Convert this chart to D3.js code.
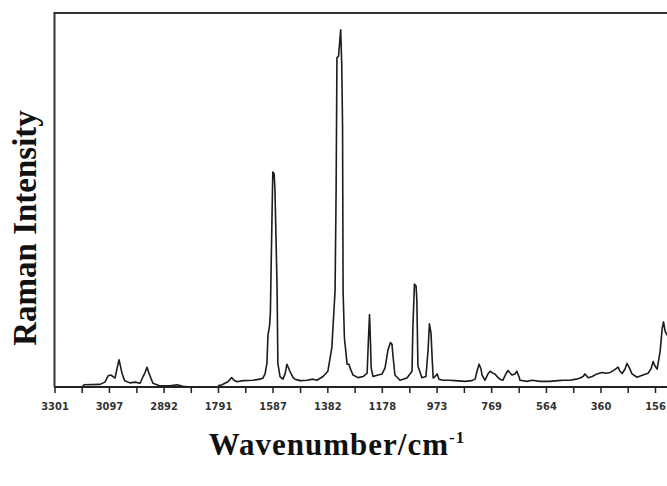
<!DOCTYPE html>
<html>
<head>
<meta charset="utf-8">
<script src="https://cdn.jsdelivr.net/npm/d3@7"></script>
<style>
  body { margin: 0; background: #fff; }
  svg { display: block; }
</style>
</head>
<body>
<svg id="chart" width="667" height="486"></svg>
<script>
// high wavenumber part (C-H region), before the axis break
var leftWavenumber = [3301, 3198, 3190, 3130, 3112, 3100, 3089, 3074, 3067, 3059, 3048, 3038, 3018, 2999, 2980, 2969, 2962, 2954, 2947, 2932, 2905, 2868, 2842, 2819, 2793];
var leftIntensity  = [0, 0, 0.6, 0.7, 1.3, 3.0, 3.2, 2.4, 4.8, 7.3, 3.7, 1.7, 1.1, 1.3, 1.0, 2.8, 3.8, 5.3, 3.7, 1.0, 0.3, 0.3, 0.6, 0.2, 0];

// fingerprint region, after the break
var rightWavenumber = [1791, 1776, 1754, 1740, 1731, 1720, 1697, 1660, 1634, 1623, 1615, 1608, 1604, 1598, 1595, 1591, 1586, 1581, 1578, 1574, 1570, 1567, 1559, 1548, 1540, 1533, 1522, 1510, 1503, 1484, 1458, 1436, 1421, 1398, 1380, 1365, 1361, 1353, 1349, 1346, 1340, 1332, 1328, 1325, 1323, 1318, 1308, 1301, 1297, 1286, 1267, 1248, 1233, 1228, 1224, 1220, 1218, 1211, 1192, 1177, 1166, 1155, 1146, 1140, 1136, 1129, 1110, 1084, 1065, 1062, 1056, 1050, 1047, 1043, 1028, 1013, 1005, 1000, 994, 990, 986, 979, 971, 964, 949, 930, 904, 867, 841, 829, 822, 814, 807, 803, 792, 781, 773, 762, 755, 747, 736, 725, 714, 706, 699, 691, 680, 673, 665, 661, 635, 616, 586, 549, 519, 500, 474, 451, 436, 425, 418, 406, 391, 373, 354, 339, 324, 309, 294, 287, 279, 268, 261, 253, 242, 223, 201, 182, 171, 163, 156, 148, 137, 129, 124, 118, 111, 100];
var rightIntensity  = [0.3, 0.6, 1.4, 2.5, 1.8, 1.4, 1.7, 1.8, 2.1, 2.4, 3.5, 6.3, 13.9, 16.4, 19.9, 37, 57.5, 57, 53, 40, 26.5, 6.3, 2.8, 2.1, 3.5, 6.1, 4.2, 2.5, 2.1, 1.7, 1.8, 2.1, 1.8, 2.8, 4.2, 10.6, 15.7, 25.7, 53, 88, 88.5, 95.5, 86, 70, 25.7, 13.1, 6.1, 6.1, 5.1, 3.2, 2.5, 2.8, 3.7, 13.1, 19.4, 10.6, 5.1, 2.8, 3.2, 3.5, 5.1, 9.9, 11.9, 11.4, 8.1, 3.2, 1.8, 2.4, 4.2, 15.7, 27.5, 27, 23.2, 5.6, 2.5, 2.8, 9.9, 16.9, 14.4, 8.1, 2.4, 2.8, 3.5, 2.1, 1.8, 1.8, 1.7, 1.5, 1.7, 2.1, 4.2, 6.1, 4.8, 3.2, 1.8, 3.5, 4.2, 3.7, 3.5, 2.8, 2.1, 1.8, 3.5, 4.4, 3.8, 3.2, 3.5, 4.2, 2.8, 1.8, 1.5, 1.8, 1.5, 1.5, 1.7, 1.8, 1.8, 2.1, 2.4, 2.8, 3.5, 2.5, 2.8, 3.5, 3.9, 3.7, 3.9, 4.5, 5.3, 4.2, 3.6, 4.8, 6.3, 5.3, 3.5, 2.6, 3.2, 3.7, 4.8, 6.8, 5.6, 4.8, 9.4, 15.7, 17.4, 14.9, 13.9, 15.7];

var tickLabels = [3301, 3097, 2892, 1791, 1587, 1382, 1178, 973, 769, 564, 360, 156];
var minorTicks = [3199, 2994, 2790, 1689, 1484, 1280, 1075, 871, 666, 462, 258, 53];

var svg = d3.select("#chart");

// (don't call it "top", that one belongs to window)
var plotLeft = 54.5, plotTop = 13, plotBottom = 387;

// broken axis: 2688..1791 collapse onto the same spot
var x = d3.scaleLinear()
    .domain([3301, 2688, 1791, 156])
    .range([plotLeft, 218, 218, 655]);

var y = d3.scaleLinear()
    .domain([0, 100])
    .range([plotBottom, plotTop]);

var line = d3.line()
    .x(d => x(d[0]))
    .y(d => y(d[1]));

var segments = [
    d3.zip(leftWavenumber, leftIntensity),
    d3.zip(rightWavenumber, rightIntensity)
];

svg.selectAll(".spectrum")
    .data(segments)
    .enter()
    .append("path")
    .attr("class", "spectrum")
    .attr("d", line)
    .style("fill", "none")
    .style("stroke", "#1c1c1c")
    .style("stroke-width", 1.6)
    .style("stroke-linejoin", "round");

// frame: left and top only, right side is cut off
svg.append("line")
    .attr("x1", plotLeft).attr("y1", plotTop)
    .attr("x2", plotLeft).attr("y2", plotBottom)
    .style("stroke", "#333").style("stroke-width", 2);

svg.append("line")
    .attr("x1", plotLeft - 1).attr("y1", plotTop)
    .attr("x2", 667).attr("y2", plotTop)
    .style("stroke", "#333").style("stroke-width", 2);

var xAxis = d3.axisBottom(x)
    .tickValues(tickLabels.concat(minorTicks))
    .tickSize(6)
    .tickPadding(9)
    .tickFormat(d => tickLabels.indexOf(d) >= 0 ? d : "");

var gx = svg.append("g")
    .attr("transform", "translate(0," + plotBottom + ")")
    .call(xAxis);

gx.select(".domain")
    .attr("d", "M" + plotLeft + ",0H700")
    .style("stroke", "#222").style("stroke-width", 2);

gx.selectAll(".tick line")
    .style("stroke", "#222").style("stroke-width", 1.5);

gx.selectAll(".tick text")
    .style("font-family", "'Liberation Sans Narrow', 'DejaVu Sans Condensed', sans-serif")
    .style("font-weight", "bold")
    .style("font-size", "11px")
    .style("fill", "#333");

var xTitle = svg.append("text")
    .attr("x", 337)
    .attr("y", 455)
    .attr("text-anchor", "middle")
    .style("font-family", "'Liberation Serif', serif")
    .style("font-weight", "bold")
    .style("font-size", "31px")
    .style("letter-spacing", "1px")
    .style("fill", "#111");

xTitle.append("tspan").text("Wavenumber/cm");
xTitle.append("tspan")
    .attr("dy", -12)
    .style("font-size", "17px")
    .text("-1");

svg.append("text")
    .attr("transform", "translate(36,228) rotate(-90)")
    .attr("text-anchor", "middle")
    .style("font-family", "'Liberation Serif', serif")
    .style("font-weight", "bold")
    .style("font-size", "33px")
    .style("fill", "#111")
    .text("Raman Intensity");
</script>
</body>
</html>
